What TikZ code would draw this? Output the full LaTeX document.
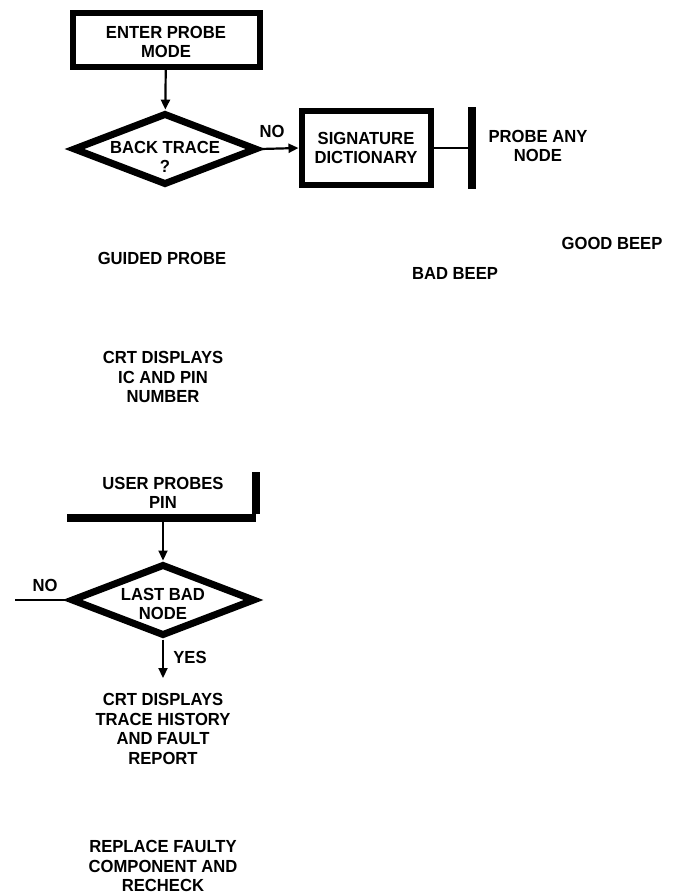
\documentclass[tikz,border=0pt]{standalone}
\usepackage{fontspec}
\setmainfont{Liberation Sans}[FakeStretch=0.95]
\usetikzlibrary{shapes.geometric,arrows.meta}
\begin{document}
\begin{tikzpicture}[x=1pt,y=-1pt,
  every node/.style={font=\bfseries\fontsize{17.5}{19.5}\selectfont,align=center,inner sep=0pt},
  box/.style={draw,line width=6pt,minimum width=187pt,minimum height=54pt},
  sbox/.style={draw,line width=6pt,minimum width=129pt,minimum height=74pt},
  dec/.style={draw,diamond,line width=7pt,minimum width=184pt,minimum height=72pt,aspect=2.5},
  arr/.style={line width=2.2pt,-{Triangle[length=10pt,width=9pt]}},
  ln/.style={line width=2.2pt},
  bar/.style={line width=8pt}]
\useasboundingbox (0,0) rectangle (680,895);
\node[box] (enter) at (166,40) {};
\node (entert) at (166,42) {ENTER PROBE\\MODE};
\node[dec] (back) at (165,149) {};
\node (backt) at (165,157) {BACK TRACE\\?};
\node[sbox] (sig) at (366,148) {SIGNATURE\\DICTIONARY};
\coordinate (bt) at (472,107);
\coordinate (bb) at (472,189);
\coordinate (bm) at (472,148);
\node (probe) at (538,146) {PROBE ANY\\NODE};
\node (good) at (612,243) {GOOD BEEP};
\node (bad) at (455,273) {BAD BEEP};
\node (guided) at (162,258) {GUIDED PROBE};
\node (crt1) at (163,377) {CRT DISPLAYS\\IC AND PIN\\NUMBER};
\node (user) at (163,493) {USER PROBES\\PIN};
\coordinate (ul) at (67,518);
\coordinate (ur) at (256,518);
\coordinate (ut) at (256,472);
\coordinate (um) at (163,518);
\node[dec] (last) at (163,600) {};
\node (lastt) at (163,604) {LAST BAD\\NODE};
\coordinate (nofree) at (15,600);
\node (no2) at (45,585) {NO};
\node (crt2) at (163,729) {CRT DISPLAYS\\TRACE HISTORY\\AND FAULT\\REPORT};
\node (repl) at (163,866) {REPLACE FAULTY\\COMPONENT AND\\RECHECK};
\coordinate (yesend) at (163,678);
\node (yes) at (190,657) {YES};
\node (no1) at (272,131) {NO};
\draw[arr] (enter) -- (back);
\draw[arr] (back.east) -- (sig.west);
\draw[ln] (sig.east) -- (bm);
\draw[bar] (bt) -- (bb);
\draw[bar] (ul) -- (ur);
\draw[bar] ([yshift=4pt]ur) -- (ut);
\draw[arr] (um) -- (last.north);
\draw[ln] (last.west) -- (nofree);
\draw[arr] (last.south) -- (yesend);
\end{tikzpicture}
\end{document}
